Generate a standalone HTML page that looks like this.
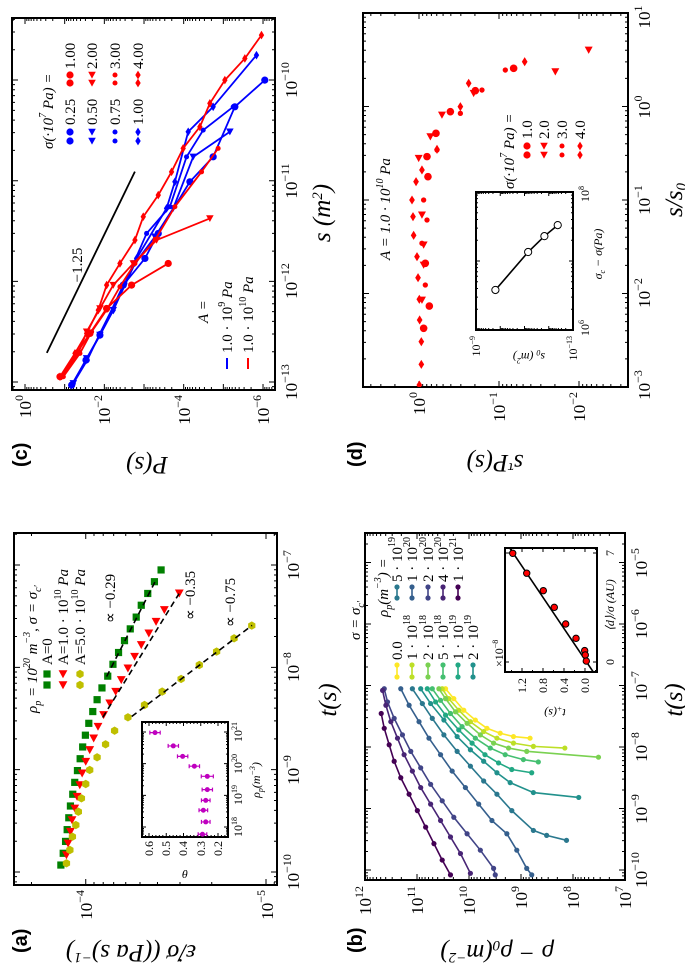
<!DOCTYPE html>
<html><head><meta charset="utf-8"><style>
html,body{margin:0;padding:0;background:#fff}
svg{display:block}
text{font-family:"Liberation Serif",serif;fill:#000}
.tk{font-size:17px}
.tk tspan{font-size:12px}
.it{font-style:italic}
.al{font-size:25px}
.lg{font-size:15px}
.sm{font-size:12px}
.pl{font-family:"Liberation Sans",sans-serif;font-weight:bold;font-size:20px}
</style></head><body>
<svg width="685" height="967" viewBox="0 0 685 967">
<g id="fig" transform="translate(0,967) rotate(-90)">
<rect x="0" y="0" width="967" height="685" fill="#fff"/>

<!-- Panel labels -->
<text class="pl" x="14" y="27">(a)</text>
<text class="pl" x="14" y="362">(b)</text>
<text class="pl" x="500" y="27">(c)</text>
<text class="pl" x="500" y="362">(d)</text>

<!-- Panel a ticks labels -->
<g class="tk" text-anchor="middle">
<text x="95" y="299">10<tspan dy="-8">−10</tspan></text>
<text x="197" y="299">10<tspan dy="-8">−9</tspan></text>
<text x="300" y="299">10<tspan dy="-8">−8</tspan></text>
<text x="402" y="299">10<tspan dy="-8">−7</tspan></text>
</g>
<g class="tk" text-anchor="end">
<text x="77" y="92">10<tspan dy="-8">−4</tspan></text>
<text x="77" y="273">10<tspan dy="-8">−5</tspan></text>
</g>
<text class="al it" x="267" y="336" text-anchor="middle">t(s)</text>
<text class="al it" transform="translate(22,131) rotate(-90)" text-anchor="middle">ε̇/σ ((Pa s)<tspan dy="-8" font-size="15">−1</tspan><tspan dy="8">)</tspan></text>
<text class="lg it" x="254" y="37">ρ<tspan font-size="10" dy="4">p</tspan><tspan dy="-4"> = 10</tspan><tspan font-size="10" dy="-7">20</tspan><tspan dy="7"> m</tspan><tspan font-size="10" dy="-7">−3</tspan><tspan dy="7">, σ = σ</tspan><tspan font-size="10" dy="4">c′</tspan></text>
<text class="lg" x="302" y="52">A=0</text>
<text class="lg" x="302" y="68">A=1.0 · 10<tspan font-size="10" dy="-7">10</tspan><tspan dy="7" font-style="italic"> Pa</tspan></text>
<text class="lg" x="302" y="85">A=5.0 · 10<tspan font-size="10" dy="-7">10</tspan><tspan dy="7" font-style="italic"> Pa</tspan></text>
<text class="lg" x="344" y="115">∝ −0.29</text>
<text class="lg" x="347" y="195">∝ −0.35</text>
<text class="lg" x="340" y="235">∝ −0.75</text>
<!-- inset a labels -->
<g class="sm" text-anchor="end">
<text x="126" y="153">0.6</text><text x="126" y="170">0.5</text><text x="126" y="187">0.4</text><text x="126" y="205">0.3</text><text x="126" y="222">0.2</text>
</g>
<g class="sm" text-anchor="middle">
<text x="140" y="242">10<tspan dy="-5" font-size="8">18</tspan></text>
<text x="172" y="242">10<tspan dy="-5" font-size="8">19</tspan></text>
<text x="203" y="242">10<tspan dy="-5" font-size="8">20</tspan></text>
<text x="235" y="242">10<tspan dy="-5" font-size="8">21</tspan></text>
</g>
<text class="sm it" x="187" y="260" text-anchor="middle">ρ<tspan font-size="8" dy="3">p</tspan><tspan dy="-3">(m</tspan><tspan font-size="8" dy="-5">−3</tspan><tspan dy="5">)</tspan></text>
<text class="sm it" transform="translate(97,185) rotate(-90)" text-anchor="middle">θ</text>

<!-- Panel b labels -->
<g class="tk" text-anchor="middle">
<text x="97" y="647">10<tspan dy="-8">−10</tspan></text>
<text x="158" y="647">10<tspan dy="-8">−9</tspan></text>
<text x="220" y="647">10<tspan dy="-8">−8</tspan></text>
<text x="281" y="647">10<tspan dy="-8">−7</tspan></text>
<text x="343" y="647">10<tspan dy="-8">−6</tspan></text>
<text x="404" y="647">10<tspan dy="-8">−5</tspan></text>
</g>
<g class="tk" text-anchor="end">
<text x="81" y="371">10<tspan dy="-8">12</tspan></text>
<text x="81" y="423">10<tspan dy="-8">11</tspan></text>
<text x="81" y="475">10<tspan dy="-8">10</tspan></text>
<text x="81" y="527">10<tspan dy="-8">9</tspan></text>
<text x="81" y="579">10<tspan dy="-8">8</tspan></text>
<text x="81" y="631">10<tspan dy="-8">7</tspan></text>
</g>
<text class="al it" x="267" y="682" text-anchor="middle">t(s)</text>
<text class="al it" transform="translate(22,497) rotate(-90)" text-anchor="middle">ρ − ρ<tspan font-size="15" dy="4">0</tspan><tspan dy="-4">(m</tspan><tspan font-size="15" dy="-8">−2</tspan><tspan dy="8">)</tspan></text>
<text class="lg it" x="327" y="360">σ = σ<tspan font-size="10" dy="4">c′</tspan></text>
<text class="lg it" x="350" y="388">ρ<tspan font-size="10" dy="4">p</tspan><tspan dy="-4">(m</tspan><tspan font-size="10" dy="-7">−3</tspan><tspan dy="7">) =</tspan></text>
<g class="lg">
<text x="307" y="402">0.0</text>
<text x="307" y="417">1 · 10<tspan font-size="10" dy="-7">18</tspan></text>
<text x="307" y="433">2 · 10<tspan font-size="10" dy="-7">18</tspan></text>
<text x="307" y="448">5 · 10<tspan font-size="10" dy="-7">18</tspan></text>
<text x="307" y="463">1 · 10<tspan font-size="10" dy="-7">19</tspan></text>
<text x="307" y="478">2 · 10<tspan font-size="10" dy="-7">19</tspan></text>
<text x="385" y="402">5 · 10<tspan font-size="10" dy="-7">19</tspan></text>
<text x="385" y="417">1 · 10<tspan font-size="10" dy="-7">20</tspan></text>
<text x="385" y="433">2 · 10<tspan font-size="10" dy="-7">20</tspan></text>
<text x="385" y="448">4 · 10<tspan font-size="10" dy="-7">20</tspan></text>
<text x="385" y="463">1 · 10<tspan font-size="10" dy="-7">21</tspan></text>
</g>
<g class="sm" text-anchor="end">
<text x="289" y="526">1.2</text><text x="289" y="547">0.8</text><text x="289" y="568">0.4</text><text x="289" y="589">0.0</text>
</g>
<text class="sm" x="300" y="503">×10<tspan font-size="8" dy="-5">−8</tspan></text>
<g class="sm" text-anchor="middle">
<text x="305" y="614">0</text><text x="414" y="614">7</text>
</g>
<text class="sm it" x="362" y="614" text-anchor="middle">⟨d⟩/σ (AU)</text>
<text class="sm it" transform="translate(258,555) rotate(-90)" text-anchor="middle">t<tspan font-size="8" dy="3">+</tspan><tspan dy="-3">(s)</tspan></text>

<!-- Panel c labels -->
<g class="tk" text-anchor="middle">
<text x="585" y="297">10<tspan dy="-8">−13</tspan></text>
<text x="686" y="297">10<tspan dy="-8">−12</tspan></text>
<text x="786" y="297">10<tspan dy="-8">−11</tspan></text>
<text x="887" y="297">10<tspan dy="-8">−10</tspan></text>
</g>
<g class="tk" text-anchor="end">
<text x="572" y="31">10<tspan dy="-8">0</tspan></text>
<text x="572" y="110">10<tspan dy="-8">−2</tspan></text>
<text x="572" y="190">10<tspan dy="-8">−4</tspan></text>
<text x="572" y="269">10<tspan dy="-8">−6</tspan></text>
</g>
<text class="al it" x="754" y="330" text-anchor="middle">s (m<tspan font-size="15" dy="-8">2</tspan><tspan dy="8">)</tspan></text>
<text class="al it" transform="translate(510,147) rotate(-90)" text-anchor="middle">P(s)</text>
<text class="lg" x="702" y="82" text-anchor="middle">−1.25</text>
<text class="lg it" x="818" y="53">σ(·10<tspan font-size="10" dy="-7">7</tspan><tspan dy="7"> Pa) =</tspan></text>
<g class="lg">
<text x="842" y="75">0.25</text><text x="842" y="97">0.50</text><text x="842" y="120">0.75</text><text x="842" y="143">1.00</text>
<text x="898" y="75">1.00</text><text x="898" y="97">2.00</text><text x="898" y="120">3.00</text><text x="898" y="143">4.00</text>
</g>
<text class="lg it" x="644" y="208">A =</text>
<text class="lg" x="614" y="232">1.0 · 10<tspan font-size="10" dy="-7">9</tspan><tspan dy="7" font-style="italic"> Pa</tspan></text>
<text class="lg" x="614" y="253">1.0 · 10<tspan font-size="10" dy="-7">10</tspan><tspan dy="7" font-style="italic"> Pa</tspan></text>

<!-- Panel d labels -->
<g class="tk" text-anchor="middle">
<text x="582" y="650">10<tspan dy="-8">−3</tspan></text>
<text x="674" y="650">10<tspan dy="-8">−2</tspan></text>
<text x="767" y="650">10<tspan dy="-8">−1</tspan></text>
<text x="860" y="650">10<tspan dy="-8">0</tspan></text>
<text x="950" y="650">10<tspan dy="-8">1</tspan></text>
</g>
<g class="tk" text-anchor="end">
<text x="575" y="425">10<tspan dy="-8">0</tspan></text>
<text x="575" y="505">10<tspan dy="-8">−1</tspan></text>
<text x="575" y="585">10<tspan dy="-8">−2</tspan></text>
</g>
<text class="al it" x="767" y="682" text-anchor="middle">s/s<tspan font-size="15" dy="4">0</tspan></text>
<text class="al it" transform="translate(512,495) rotate(-90)" text-anchor="middle">s<tspan font-size="15" dy="-8">τ</tspan><tspan dy="8">P(s)</tspan></text>
<text class="lg it" x="707" y="390">A = 1.0 · 10<tspan font-size="10" dy="-7">10</tspan><tspan dy="7"> Pa</tspan></text>
<text class="lg it" x="778" y="514">σ(·10<tspan font-size="10" dy="-7">7</tspan><tspan dy="7"> Pa) =</tspan></text>
<g class="lg">
<text x="828" y="532">1.0</text><text x="828" y="549">2.0</text><text x="828" y="567">3.0</text><text x="828" y="585">4.0</text>
</g>
<g class="sm" text-anchor="end">
<text x="631" y="480">10<tspan dy="-5" font-size="8">−9</tspan></text>
<text x="631" y="577">10<tspan dy="-5" font-size="8">−13</tspan></text>
</g>
<g class="sm" text-anchor="middle">
<text x="639" y="589">10<tspan dy="-5" font-size="8">6</tspan></text>
<text x="773" y="589">10<tspan dy="-5" font-size="8">8</tspan></text>
</g>
<text class="sm it" x="713" y="602" text-anchor="middle">σ<tspan font-size="8" dy="3">c</tspan><tspan dy="-3"> − σ(Pa)</tspan></text>
<text class="sm it" transform="translate(614,529) rotate(-90)" text-anchor="middle">s<tspan font-size="8" dy="3">0</tspan><tspan dy="-3"> (m</tspan><tspan font-size="8" dy="-5">2</tspan><tspan dy="5">)</tspan></text>
</g>
</svg>
<script>
// ---------- Panel (a) data (log10 values) ----------
const aGreenLogT=[-9.932,-9.817,-9.701,-9.586,-9.470,-9.355,-9.240,-9.124,-9.009,-8.893,-8.778,-8.663,-8.547,-8.432,-8.316,-8.201,-8.086,-7.970,-7.855,-7.739,-7.624,-7.509,-7.393,-7.278,-7.163,-7.048];
const aGreenLogE=[-3.862,-3.875,-3.888,-3.897,-3.906,-3.915,-3.928,-3.939,-3.954,-3.969,-3.983,-3.998,-4.017,-4.039,-4.063,-4.090,-4.122,-4.151,-4.182,-4.215,-4.247,-4.280,-4.308,-4.344,-4.381,-4.418];
const aRedLogT=[-9.834,-9.72,-9.606,-9.492,-9.378,-9.264,-9.15,-9.035,-8.921,-8.807,-8.693,-8.579,-8.465,-8.351,-8.237,-8.123,-8.009,-7.895,-7.781,-7.667,-7.553,-7.439,-7.276];
const aRedLogE=[-3.893,-3.902,-3.915,-3.924,-3.939,-3.952,-3.967,-3.980,-4.000,-4.022,-4.044,-4.068,-4.099,-4.133,-4.166,-4.197,-4.234,-4.271,-4.308,-4.350,-4.390,-4.436,-4.519];
const aYelLogT=[-9.915,-9.785,-9.655,-9.541,-9.411,-9.280,-9.140,-9.003,-8.879,-8.752,-8.619,-8.488,-8.368,-8.237,-8.113,-7.977,-7.846,-7.716,-7.592];
const aYelLogE=[-3.893,-3.912,-3.926,-3.945,-3.959,-3.976,-4.000,-4.022,-4.063,-4.110,-4.160,-4.234,-4.326,-4.424,-4.529,-4.630,-4.726,-4.823,-4.921];
const aFitSlopes=[-0.29,-0.35,-0.75];
const aFitFrom=[-8.09,-8.49,-8.48];
const aFitTo=[-7.15,-7.28,-7.59];
const aInsetLogRho=[20.98,20.56,20.23,19.92,19.60,19.18,18.84,18.53,18.16,17.77];
const aInsetTheta=[0.565,0.459,0.405,0.337,0.262,0.262,0.271,0.285,0.271,0.290];
const aInsetErr=[0.03,0.03,0.03,0.03,0.035,0.03,0.025,0.025,0.025,0.025];

// ---------- Panel (b) data ----------
const bLabels=['0.0','1e18','2e18','5e18','1e19','2e19','5e19','1e20','2e20','4e20','1e21'];
const bColors=['#fde725','#bddf26','#7ad151','#44bf70','#22a884','#21918c','#2a788e','#355f8d','#414487','#482475','#440154'];
const bLogT=[
[-7.053,-7.214,-7.402,-7.562,-7.696,-7.776,-7.83,-7.857],
[-7.053,-7.214,-7.402,-7.589,-7.749,-7.857,-7.937,-7.99,-8.017],
[-7.053,-7.214,-7.428,-7.615,-7.803,-7.937,-8.017,-8.071,-8.166],
[-7.053,-7.241,-7.455,-7.669,-7.857,-8.017,-8.125,-8.205,-8.243],
[-7.053,-7.267,-7.482,-7.723,-7.937,-8.125,-8.259,-8.366,-8.419],
[-7.053,-7.294,-7.562,-7.83,-8.045,-8.232,-8.419,-8.58,-8.741,-8.82],
[-7.053,-7.294,-7.535,-7.803,-8.071,-8.312,-8.553,-8.768,-9.035,-9.357,-9.437,-9.518],
[-7.053,-7.321,-7.589,-7.857,-8.125,-8.392,-8.66,-8.929,-9.196,-9.411,-9.678,-9.974,-10.08],
[-7.053,-7.267,-7.535,-7.803,-8.071,-8.339,-8.607,-8.875,-9.143,-9.411,-9.678,-9.974,-10.08],
[-7.08,-7.321,-7.589,-7.857,-8.125,-8.392,-8.66,-8.929,-9.196,-9.464,-9.733,-10.054],
[-7.455,-7.696,-7.964,-8.232,-8.5,-8.768,-9.035,-9.303,-9.572,-9.839,-10.08]];
const bLogRho=[
[10.451,10.292,10.101,9.878,9.655,9.4,9.145,8.826],
[10.515,10.388,10.197,9.973,9.718,9.463,9.145,8.762,8.157],
[10.579,10.451,10.26,10.037,9.782,9.527,9.24,8.89,7.51],
[10.706,10.547,10.356,10.133,9.878,9.591,9.304,8.954,8.667],
[10.802,10.642,10.451,10.197,9.941,9.693,9.432,9.177,8.794],
[10.929,10.738,10.483,10.228,9.973,9.718,9.463,9.208,8.762,7.89],
[11.089,10.897,10.706,10.483,10.228,9.973,9.718,9.463,9.177,8.762,8.507,8.125],
[11.312,11.152,10.961,10.77,10.547,10.324,10.069,9.814,9.559,9.272,9.081,8.89,8.794],
[11.63,11.567,11.439,11.28,11.12,10.929,10.738,10.515,10.292,10.037,9.782,9.527,9.495],
[11.662,11.598,11.503,11.375,11.248,11.089,10.929,10.738,10.547,10.356,10.164,9.973],
[11.688,11.63,11.535,11.439,11.312,11.152,10.993,10.834,10.674,10.515,10.356]];
const bInsetD=[6.98,5.70,4.58,3.51,2.44,1.52,0.73,0.45,0.06];
const bInsetT=[1.377,1.11,0.794,0.585,0.368,0.171,0.006,-0.006,-0.025];
const bFitIntercept=-0.03, bFitSlope=0.2;

// ---------- Panel (c) data ----------
const cLabels=['B0.25','B0.50','B0.75','B1.00','R1.00','R2.00','R3.00','R4.00'];
const cColors=['#0000ff','#0000ff','#0000ff','#0000ff','#ff0000','#ff0000','#ff0000','#ff0000'];
const cMarkers=['o','v','.','d','o','v','.','d'];
const cLogS=[
[-13.03,-12.782,-12.533,-12.037,-11.772,-11.524,-11.011,-10.763,-10.266,-10.001],
[-13.013,-12.765,-12.533,-12.285,-11.822,-11.557,-11.275,-10.763,-10.514],
[-13.013,-12.782,-12.517,-12.02,-11.524,-11.259,-10.763,-10.498,-10.266],
[-13.03,-12.782,-12.533,-12.285,-11.772,-11.275,-11.011,-10.514,-10.266,-9.753],
[-12.947,-12.715,-12.517,-12.269,-12.037,-11.822],
[-12.947,-12.715,-12.5,-12.269,-12.037,-11.822,-11.59,-11.375],
[-12.947,-12.715,-12.5,-12.285,-12.053,-11.822,-11.59,-11.259,-10.912,-10.679],
[-12.947,-12.715,-12.517,-12.285,-12.037,-11.822,-11.59,-11.358,-11.143,-10.912,-10.679,-10.465,-10.232,-10.001,-9.786,-9.554]];
const cLogP=[
[-1.176,-1.537,-1.889,-2.477,-3.023,-3.359,-4.156,-4.743,-5.290,-6.045],
[-1.218,-1.553,-1.889,-2.225,-2.771,-3.275,-3.736,-4.240,-5.164],
[-1.218,-1.570,-1.889,-2.519,-3.065,-3.652,-4.072,-4.492,-5.248],
[-1.176,-1.537,-1.889,-2.225,-2.813,-3.568,-3.778,-4.114,-4.743,-5.835],
[-0.882,-1.301,-1.637,-2.057,-2.687,-3.610],
[-0.924,-1.343,-1.553,-1.889,-2.225,-2.729,-3.317,-4.660],
[-0.966,-1.385,-1.679,-2.057,-2.393,-2.771,-3.275,-3.778,-4.450,-4.869],
[-0.882,-1.259,-1.553,-1.847,-2.057,-2.393,-2.771,-2.981,-3.359,-3.694,-3.987,-4.408,-4.660,-5.038,-5.542,-5.961]];
const cRefLineLogS=[-12.71,-10.91];
const cRefLineLogP=[-0.55,-2.77];

// ---------- Panel (d) data ----------
const dMarkers=['o','v','.','d'];
const dLogX=[
[-2.372,-2.134,-1.677,-0.751,-0.536,-0.287,-0.055,0.169,0.408],
[-2.07,-1.695,-1.481,-1.16,-0.554,-0.323,-0.091,0.141,0.372,0.604],
[-1.909,-1.463,-1.214,-1.0,-0.465,-0.073,0.176,0.39],
[-2.979,-2.758,-2.515,-2.283,-2.062,-1.831,-1.606,-1.378,-1.178,-1.0,-0.804,-0.679,-0.458,-0.002,0.248,0.479]];
const dLogY=[
[-0.058,-0.129,-0.079,-0.112,-0.1,-0.212,-0.392,-0.704,-1.183],
[-0.037,-0.058,-0.058,-0.037,0.004,-0.142,-0.287,-0.683,-1.704,-2.121],
[-0.079,-0.037,-0.1,-0.058,-0.225,-0.517,-0.787,-1.079],
[-0.004,-0.029,-0.029,-0.008,-0.004,0.012,0.025,0.067,0.075,0.0875,0.037,-0.037,-0.225,-0.517,-0.621,-1.321]];
const dInsetLogSig=[6.58,7.13,7.36,7.52];
const dInsetLogS0=[-9.8,-11.15,-11.82,-12.37];

// ---------- helpers ----------
const NS='http://www.w3.org/2000/svg';
const root=document.getElementById('fig');
function mk(tag,parent){const e=document.createElementNS(NS,tag);parent.appendChild(e);return e;}
function ax(X0,X1,xa,xb,Y0,Y1,ya,yb){return {X0,X1,Y0,Y1,x:v=>X0+(v-xa)/(xb-xa)*(X1-X0),y:v=>Y0+(v-ya)/(yb-ya)*(Y1-Y0),xa,xb,ya,yb};}
function logTicks(a,b){const lo=Math.min(a,b),hi=Math.max(a,b);const maj=[],min=[];for(let n=Math.floor(lo)-1;n<=Math.ceil(hi);n++){if(n>=lo-1e-9&&n<=hi+1e-9)maj.push(n);for(let k=2;k<10;k++){const v=n+Math.log10(k);if(v>=lo&&v<=hi)min.push(v);}}return {maj,min};}
function linTicks(a,b,step,mstep){const lo=Math.min(a,b),hi=Math.max(a,b);const maj=[],min=[];for(let v=Math.ceil(lo/mstep-1e-9)*mstep;v<=hi+1e-9;v+=mstep){const r=Math.round(v/step);if(Math.abs(v-r*step)<1e-6)maj.push(v);else min.push(v);}return {maj,min};}
function frame(A,name,xt,yt,ml,nl){
  const g=mk('g',root);
  
  
  const p=mk('path',g);
  let d='';
  xt.maj.forEach(v=>{const X=A.x(v);d+=`M${X} ${A.Y1}v${-ml}M${X} ${A.Y0}v${ml}`;});
  xt.min.forEach(v=>{const X=A.x(v);d+=`M${X} ${A.Y1}v${-nl}M${X} ${A.Y0}v${nl}`;});
  yt.maj.forEach(v=>{const Y=A.y(v);d+=`M${A.X0} ${Y}h${ml}M${A.X1} ${Y}h${-ml}`;});
  yt.min.forEach(v=>{const Y=A.y(v);d+=`M${A.X0} ${Y}h${nl}M${A.X1} ${Y}h${-nl}`;});
  p.setAttribute('d',d);p.setAttribute('stroke','#000');p.setAttribute('stroke-width','1');p.setAttribute('fill','none');
  
  
  const r=mk('rect',g);
  r.setAttribute('x',A.X0);r.setAttribute('y',A.Y0);r.setAttribute('width',A.X1-A.X0);r.setAttribute('height',A.Y1-A.Y0);
  r.setAttribute('fill','none');r.setAttribute('stroke','#000');r.setAttribute('stroke-width','2');
  
  
  return g;
}
let clipId=0;
function clipG(A,name){
  const cp=mk('clipPath',root);const id='cp'+(clipId++);cp.setAttribute('id',id);
  const r=mk('rect',cp);r.setAttribute('x',A.X0);r.setAttribute('y',A.Y0);r.setAttribute('width',A.X1-A.X0);r.setAttribute('height',A.Y1-A.Y0);
  const g=mk('g',root);g.setAttribute('clip-path',`url(#${id})`);
  
  
  return g;
}
function marker(g,type,X,Y,s,fill,stroke){
  let e;
  if(type==='s'){e=mk('rect',g);e.setAttribute('x',X-s);e.setAttribute('y',Y-s);e.setAttribute('width',2*s);e.setAttribute('height',2*s);}
  else if(type==='o'||type==='.'){e=mk('circle',g);e.setAttribute('cx',X);e.setAttribute('cy',Y);e.setAttribute('r',type==='.'?s*0.7:s);}
  else if(type==='v'){e=mk('polygon',g);e.setAttribute('points',`${X-s} ${Y} ${X+s*0.9} ${Y-s*1.05} ${X+s*0.9} ${Y+s*1.05}`);}
  else if(type==='d'){e=mk('polygon',g);e.setAttribute('points',`${X-s*1.2} ${Y} ${X} ${Y-s*0.75} ${X+s*1.2} ${Y} ${X} ${Y+s*0.75}`);}
  else if(type==='h'){e=mk('polygon',g);let pts=[];for(let i=0;i<6;i++){const a=Math.PI/3*i;pts.push((X+s*Math.cos(a))+' '+(Y+s*Math.sin(a)));}e.setAttribute('points',pts.join(' '));}
  e.setAttribute('fill',fill);if(stroke){e.setAttribute('stroke',stroke);e.setAttribute('stroke-width','1');}
  return e;
}
function poly(g,pts,color,w,dash){const p=mk('polyline',g);p.setAttribute('points',pts.map(q=>q.join(' ')).join(' '));p.setAttribute('fill','none');p.setAttribute('stroke',color);p.setAttribute('stroke-width',w);if(dash)p.setAttribute('stroke-dasharray',dash);return p;}

// ---------- Panel (a) ----------
const A=ax(82,434,-10.127,-6.687,14,277,-3.602,-5.061);
frame(A,'panel-a-axes',logTicks(A.xa,A.xb),logTicks(A.ya,A.yb),6,3);
const ga=clipG(A,'panel-a-plot');
[[aGreenLogT,aGreenLogE,'s','#008000',3.6,'a-series-a0'],[aRedLogT,aRedLogE,'v','#ff0000',4.2,'a-series-a1'],[aYelLogT,aYelLogE,'h','#bfbf00',4.2,'a-series-a5']].forEach(S=>{
  const g=mk('g',ga);
  
  
  S[0].forEach((t,i)=>{const m=marker(g,S[2],A.x(t),A.y(S[1][i]),S[4],S[3]);
    
    });
});
[[aGreenLogT,aGreenLogE],[aRedLogT,aRedLogE],[aYelLogT,aYelLogE]].forEach((S,k)=>{
  const n=S[0].length-1;const c=S[1][n]-aFitSlopes[k]*S[0][n];
  const l=poly(ga,[[A.x(aFitFrom[k]),A.y(c+aFitSlopes[k]*aFitFrom[k])],[A.x(aFitTo[k]),A.y(c+aFitSlopes[k]*aFitTo[k])]],'#000',1.6,'6 4');
  
  
});
[['s','#008000',47,3.6],['v','#ff0000',63,4.2],['h','#bfbf00',80,4.2]].forEach(L=>{
  [282,293].forEach(X=>{const m=marker(root,L[0],X,L[2],L[3],L[1]);
    
    });
});
const AI=ax(130,245,17.684,21.316,142,228,0.6406,0.142);
const inBg=mk('rect',root);inBg.setAttribute('x',130);inBg.setAttribute('y',142);inBg.setAttribute('width',115);inBg.setAttribute('height',86);inBg.setAttribute('fill','#fff');


frame(AI,'a-inset-axes',logTicks(AI.xa,AI.xb),linTicks(AI.ya,AI.yb,0.1,0.02),4,2);
const gai=clipG(AI,'a-inset-plot');
aInsetLogRho.forEach((r,i)=>{
  const X=AI.x(r),Y=AI.y(aInsetTheta[i]),Y1=AI.y(aInsetTheta[i]+aInsetErr[i]),Y2=AI.y(aInsetTheta[i]-aInsetErr[i]);
  const eb=mk('path',gai);eb.setAttribute('d',`M${X} ${Y1}V${Y2}M${X-2} ${Y1}h4M${X-2} ${Y2}h4`);eb.setAttribute('stroke','#bf00bf');eb.setAttribute('stroke-width','1.2');
  
  
  const m=marker(gai,'o',X,Y,2.5,'#bf00bf');
  
  
});

// ---------- Panel (b) ----------
const B=ax(87,434,-10.163,-4.52,365,625,12,7);
frame(B,'panel-b-axes',logTicks(B.xa,B.xb),logTicks(B.ya,B.yb),6,3);
const gb=clipG(B,'panel-b-plot');
bLogT.forEach((ts,k)=>{
  const g=mk('g',gb);
  
  
  const pts=ts.map((t,i)=>[B.x(t),B.y(bLogRho[k][i])]);
  const l=poly(g,pts,bColors[k],1.6);
  
  
  pts.forEach(p=>{const m=marker(g,'o',p[0],p[1],2.6,bColors[k]);
    
    });
});
const bRows=[397,412,428,443,458,473];
bColors.forEach((c,k)=>{
  const col=k<6?0:1;const row=k<6?k:k-6;const X0=col?369:290,X1=col?380:302;const Y=bRows[row];
  const l=poly(root,[[X0,Y],[X1,Y]],c,1.6);
  
  
  [X0,X1].forEach(X=>{const m=marker(root,'o',X,Y,2.6,c);
    
    });
});
const BI=ax(295,419,-0.642,7.32,505,597,1.524,-0.229);
const bBg=mk('rect',root);bBg.setAttribute('x',295);bBg.setAttribute('y',505);bBg.setAttribute('width',124);bBg.setAttribute('height',92);bBg.setAttribute('fill','#fff');


frame(BI,'b-inset-axes',linTicks(BI.xa,BI.xb,7,7),linTicks(BI.ya,BI.yb,0.4,0.2),4,2);
const gbi=clipG(BI,'b-inset-plot');
const fl=poly(gbi,[[BI.x(-0.7),BI.y(bFitIntercept+bFitSlope*-0.7)],[BI.x(7.4),BI.y(bFitIntercept+bFitSlope*7.4)]],'#000',1.6);


bInsetD.forEach((d,i)=>{const m=marker(gbi,'o',BI.x(d),BI.y(bInsetT[i]),3.2,'#ff0000','#000');
  
  });

// ---------- Panel (c) ----------
const C=ax(577,949,-13.079,-9.384,12,275,0.328,-6.302);
frame(C,'panel-c-axes',logTicks(C.xa,C.xb),logTicks(C.ya,C.yb),6,3);
const gc=clipG(C,'panel-c-plot');
const rl=poly(gc,[[C.x(cRefLineLogS[0]),C.y(cRefLineLogP[0])],[C.x(cRefLineLogS[1]),C.y(cRefLineLogP[1])]],'#000',1.8);


cLogS.forEach((ss,k)=>{
  const g=mk('g',gc);
  
  
  const pts=ss.map((s,i)=>[C.x(s),C.y(cLogP[k][i])]);
  const l=poly(g,pts,cColors[k],1.8);
  
  
  pts.forEach(p=>{const m=marker(g,cMarkers[k],p[0],p[1],3.6,cColors[k]);
    
    });
});
[70,92,115,138].forEach((Y,i)=>{
  [[826,835,'#0000ff'],[884,892,'#ff0000']].forEach(c=>{
    [c[0],c[1]].forEach(X=>{const m=marker(root,cMarkers[i],X,Y,3.6,c[2]);
      
      });
  });
});
[[227,'#0000ff'],[248,'#ff0000']].forEach(L=>{const l=poly(root,[[598,L[0]],[609,L[0]]],L[1],2);
  
  });

// ---------- Panel (d) ----------
const D=ax(580,954,-3,1,363,628,0.7,-2.6125);
frame(D,'panel-d-axes',logTicks(D.xa,D.xb),logTicks(D.ya,D.yb),6,3);
const gd=clipG(D,'panel-d-plot');
dLogX.forEach((xs,k)=>{
  const g=mk('g',gd);
  
  
  xs.forEach((x,i)=>{const m=marker(g,dMarkers[k],D.x(x),D.y(dLogY[k][i]),3.8,'#ff0000');
    
    });
});
[527,544,562,580].forEach((Y,i)=>{[812,821].forEach(X=>{const m=marker(root,dMarkers[i],X,Y,3.6,'#ff0000');
  
  });});
const DI=ax(637,775,6,8,476,573,-9,-13);
const dBg=mk('rect',root);dBg.setAttribute('x',637);dBg.setAttribute('y',476);dBg.setAttribute('width',138);dBg.setAttribute('height',97);dBg.setAttribute('fill','#fff');


frame(DI,'d-inset-axes',logTicks(DI.xa,DI.xb),logTicks(DI.ya,DI.yb),4,2);
const gdi=clipG(DI,'d-inset-plot');
const dl=poly(gdi,dInsetLogSig.map((s,i)=>[DI.x(s),DI.y(dInsetLogS0[i])]),'#000',1.6);


dInsetLogSig.forEach((s,i)=>{const m=marker(gdi,'o',DI.x(s),DI.y(dInsetLogS0[i]),3.6,'#fff','#000');
  
  });
</script>
</body></html>
